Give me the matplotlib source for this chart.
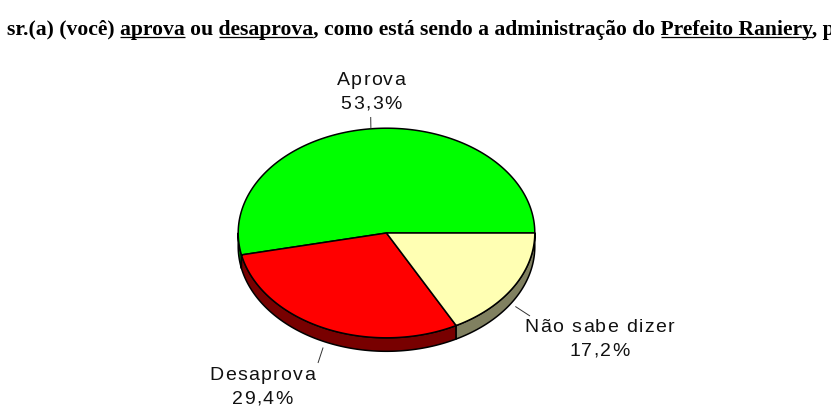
import matplotlib
matplotlib.use("Agg")
import matplotlib.pyplot as plt
import numpy as np
from matplotlib.patches import Polygon
from matplotlib.font_manager import FontProperties, findfont
from matplotlib.ft2font import FT2Font

# ---------------- data ----------------
categories = ["Aprova", "Desaprova", "Não sabe dizer"]
values = [53.3, 29.4, 17.2]
value_labels = ["53,3%", "29,4%", "17,2%"]
title_text = ("sr.(a) (você) aprova ou desaprova, como está sendo a "
              "administração do Prefeito Raniery, p")
underlined = ["aprova", "desaprova", "Prefeito Raniery"]

top_colors = ["#00FF00", "#FF0000", "#FFFFB3"]
side_colors = ["#008000", "#780000", "#808060"]

# ---------------- figure ----------------
W, H, DPI = 831, 412, 100
fig = plt.figure(figsize=(W / DPI, H / DPI), dpi=DPI)
fig.patch.set_facecolor("white")
ax = fig.add_axes([0, 0, 1, 1])
ax.set_xlim(0, W)
ax.set_ylim(H, 0)
ax.axis("off")
renderer = fig.canvas.get_renderer()

# pie geometry (pixels)
cx, cy, rx, ry, depth = 386.5, 233.0, 148.3, 104.8, 13.5


def ell(t_deg):
    t = np.radians(t_deg)
    return cx + rx * np.cos(t), cy - ry * np.sin(t)


fracs = np.array(values) / np.sum(values)
bounds = np.concatenate([[0.0], np.cumsum(fracs) * 360.0])
bounds[-1] = 360.0

# sides (front half only: 180..360 deg)
for i in range(len(values)):
    lo, hi = max(bounds[i], 180.0), min(bounds[i + 1], 360.0)
    if lo < hi:
        t = np.linspace(lo, hi, 120)
        x, y = ell(t)
        pts = np.column_stack([np.r_[x, x[::-1]], np.r_[y, y[::-1] + depth]])
        ax.add_patch(Polygon(pts, closed=True, facecolor=side_colors[i],
                             edgecolor="black", lw=1.1, joinstyle="round",
                             zorder=1))

# top faces
for i in range(len(values)):
    t = np.linspace(bounds[i], bounds[i + 1], 240)
    x, y = ell(t)
    pts = np.column_stack([np.r_[cx, x], np.r_[cy, y]])
    ax.add_patch(Polygon(pts, closed=True, facecolor=top_colors[i],
                         edgecolor="black", lw=1.1, joinstyle="round",
                         zorder=2))

# ---------------- labels with letter spacing ----------------
lab_size = 14.0
lab_fp = FontProperties(family="Liberation Sans", size=lab_size)
ft = FT2Font(findfont(lab_fp))
ft.set_size(lab_size, DPI)
try:
    from matplotlib.ft2font import LoadFlags
    NOH = LoadFlags.NO_HINTING
except Exception:
    NOH = 2


def advances(s):
    out = []
    for c in s:
        g = ft.load_char(ord(c), flags=NOH)
        out.append(g.linearHoriAdvance / 65536.0)
    return out


def tracked(xc, yb, s, track=1.4):
    adv = advances(s)
    total = sum(adv) + track * (len(s) - 1)
    x = xc - total / 2.0
    for c, a in zip(s, adv):
        if c != " ":
            ax.text(x, yb, c, fontproperties=lab_fp, ha="left",
                    va="baseline", color="#111111", zorder=5)
        x += a + track


# label layout: (center x, baseline line 1, baseline line 2, leader end)
label_layout = [
    (371.0, 84.5, 108.5, (370.7, 117.0)),
    (262.0, 380.0, 404.0, (318.0, 363.0)),
    (599.5, 331.5, 355.5, (530.0, 316.0)),
]

for i in range(len(values)):
    xc, y1, y2, lend = label_layout[i]
    tracked(xc, y1, categories[i])
    tracked(xc, y2, value_labels[i])
    mid = 0.5 * (bounds[i] + bounds[i + 1])
    sx, sy = ell(mid)
    if np.sin(np.radians(mid)) < 0:
        sy = sy + depth + 6
        sx = sx + 2 * np.cos(np.radians(mid))
    ax.plot([sx, lend[0]], [sy, lend[1]], color="#333333", lw=0.7,
            zorder=4, solid_capstyle="butt")

# ---------------- title with underlines ----------------
tfam = "Liberation Serif"
tfp = FontProperties(family=tfam, weight="bold", size=10)


def twidth(s, fp):
    t = ax.text(0, 0, s, fontproperties=fp)
    w = t.get_window_extent(renderer=renderer).width
    t.remove()
    return w


x0 = 7.0
end_word = "Prefeito Raniery"
end_idx = title_text.find(end_word) + len(end_word)
w10 = twidth(title_text[:end_idx], tfp)
tsize = 10.0 * (813.0 - x0) / w10
tfp = FontProperties(family=tfam, weight="bold", size=tsize)
baseline = 35.0
ax.text(x0, baseline, title_text, fontproperties=tfp, ha="left",
        va="baseline", color="black", zorder=6, clip_on=False)

pos = 0
for word in underlined:
    i = title_text.find(word, pos)
    j = i + len(word)
    pos = j
    xs = x0 + twidth(title_text[:i + 1], tfp) - twidth(title_text[i], tfp)
    xe = x0 + twidth(title_text[:j], tfp)
    ax.plot([xs, xe], [baseline + 2.2, baseline + 2.2], color="black",
            lw=0.9, zorder=6, solid_capstyle="butt")

fig.savefig("out.png", dpi=DPI, facecolor="white")
